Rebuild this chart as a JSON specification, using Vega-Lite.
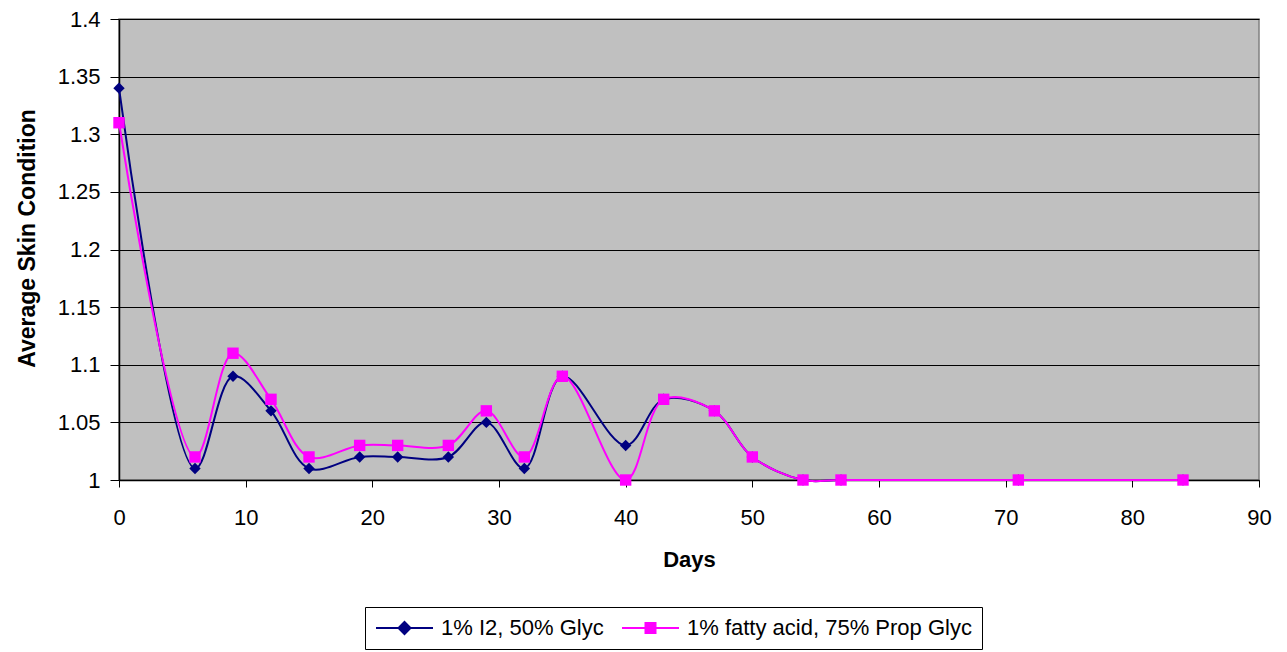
{
  "$schema": "https://vega.github.io/schema/vega-lite/v6.json",
  "autosize": "none",
  "width": 1140,
  "height": 461,
  "padding": {"left": 119, "top": 19, "right": 28, "bottom": 172},
  "background": "white",
  "config": {
    "font": "Liberation Sans",
    "view": {"fill": "#C0C0C0", "stroke": "#808080", "strokeWidth": 1.5},
    "axis": {"labelFont": "Liberation Sans", "titleFont": "Liberation Sans", "labelColor": "black", "titleColor": "black", "domainColor": "black", "tickColor": "black", "labelFlush": false}
  },
  "data": {"values": [
    {"day": 0, "v": 1.34, "s": "1% I2, 50% Glyc"},
    {"day": 6, "v": 1.01, "s": "1% I2, 50% Glyc"},
    {"day": 9, "v": 1.09, "s": "1% I2, 50% Glyc"},
    {"day": 12, "v": 1.06, "s": "1% I2, 50% Glyc"},
    {"day": 15, "v": 1.01, "s": "1% I2, 50% Glyc"},
    {"day": 19, "v": 1.02, "s": "1% I2, 50% Glyc"},
    {"day": 22, "v": 1.02, "s": "1% I2, 50% Glyc"},
    {"day": 26, "v": 1.02, "s": "1% I2, 50% Glyc"},
    {"day": 29, "v": 1.05, "s": "1% I2, 50% Glyc"},
    {"day": 32, "v": 1.01, "s": "1% I2, 50% Glyc"},
    {"day": 35, "v": 1.09, "s": "1% I2, 50% Glyc"},
    {"day": 40, "v": 1.03, "s": "1% I2, 50% Glyc"},
    {"day": 43, "v": 1.07, "s": "1% I2, 50% Glyc"},
    {"day": 47, "v": 1.06, "s": "1% I2, 50% Glyc"},
    {"day": 50, "v": 1.02, "s": "1% I2, 50% Glyc"},
    {"day": 54, "v": 1.0, "s": "1% I2, 50% Glyc"},
    {"day": 57, "v": 1.0, "s": "1% I2, 50% Glyc"},
    {"day": 71, "v": 1.0, "s": "1% I2, 50% Glyc"},
    {"day": 84, "v": 1.0, "s": "1% I2, 50% Glyc"},
    {"day": 0, "v": 1.31, "s": "1% fatty acid, 75% Prop Glyc"},
    {"day": 6, "v": 1.02, "s": "1% fatty acid, 75% Prop Glyc"},
    {"day": 9, "v": 1.11, "s": "1% fatty acid, 75% Prop Glyc"},
    {"day": 12, "v": 1.07, "s": "1% fatty acid, 75% Prop Glyc"},
    {"day": 15, "v": 1.02, "s": "1% fatty acid, 75% Prop Glyc"},
    {"day": 19, "v": 1.03, "s": "1% fatty acid, 75% Prop Glyc"},
    {"day": 22, "v": 1.03, "s": "1% fatty acid, 75% Prop Glyc"},
    {"day": 26, "v": 1.03, "s": "1% fatty acid, 75% Prop Glyc"},
    {"day": 29, "v": 1.06, "s": "1% fatty acid, 75% Prop Glyc"},
    {"day": 32, "v": 1.02, "s": "1% fatty acid, 75% Prop Glyc"},
    {"day": 35, "v": 1.09, "s": "1% fatty acid, 75% Prop Glyc"},
    {"day": 40, "v": 1.0, "s": "1% fatty acid, 75% Prop Glyc"},
    {"day": 43, "v": 1.07, "s": "1% fatty acid, 75% Prop Glyc"},
    {"day": 47, "v": 1.06, "s": "1% fatty acid, 75% Prop Glyc"},
    {"day": 50, "v": 1.02, "s": "1% fatty acid, 75% Prop Glyc"},
    {"day": 54, "v": 1.0, "s": "1% fatty acid, 75% Prop Glyc"},
    {"day": 57, "v": 1.0, "s": "1% fatty acid, 75% Prop Glyc"},
    {"day": 71, "v": 1.0, "s": "1% fatty acid, 75% Prop Glyc"},
    {"day": 84, "v": 1.0, "s": "1% fatty acid, 75% Prop Glyc"}
  ]},
  "encoding": {
    "x": {"field": "day", "type": "quantitative",
      "scale": {"domain": [0, 90], "nice": false, "zero": false},
      "axis": {"values": [0,10,20,30,40,50,60,70,80,90], "title": "Days", "grid": false,
        "labelFontSize": 22, "titleFontSize": 22, "titleFontWeight": "bold",
        "tickSize": 7, "labelPadding": 20, "titlePadding": 21, "domainWidth": 1.5}},
    "y": {"field": "v", "type": "quantitative",
      "scale": {"domain": [1.0, 1.4], "nice": false, "zero": false},
      "axis": {"values": [1, 1.05, 1.1, 1.15, 1.2, 1.25, 1.3, 1.35, 1.4], "format": "~g", "title": "Average Skin Condition",
        "grid": true, "gridColor": "black", "gridWidth": 1, "gridOpacity": 1,
        "labelFontSize": 22, "titleFontSize": 23, "titleFontWeight": "bold", "titleY": 219,
        "tickSize": 9, "labelPadding": 10, "titlePadding": 18, "domainWidth": 1.5}},
    "color": {"field": "s", "type": "nominal",
      "scale": {"domain": ["1% I2, 50% Glyc", "1% fatty acid, 75% Prop Glyc"], "range": ["#000080", "#FF00FF"]},
      "legend": {"orient": "none", "legendX": 246, "legendY": 588, "direction": "horizontal", "title": null,
        "fillColor": "white", "strokeColor": "black", "padding": 10,
        "labelFontSize": 22, "labelFont": "Liberation Sans", "labelColor": "black", "labelLimit": 0,
        "symbolSize": 400, "columnPadding": 14, "labelOffset": 44,
        "symbolType": "M-1,0H4.7M1.85,-0.6L2.45,0L1.85,0.6L1.25,0Z",
        "symbolStrokeWidth": 2,
        "encode": {"symbols": {"update": {
          "fill": {"field": "value", "scale": "color"},
          "stroke": {"field": "value", "scale": "color"},
          "shape": {"signal": "datum.value === '1% I2, 50% Glyc' ? 'M-1,0H4.7M1.85,-0.6L2.45,0L1.85,0.6L1.25,0Z' : 'M-1,0H4.7M1.35,-0.5H2.35V0.5H1.35Z'"}
        }}}}}
  },
  "layer": [
    {"mark": {"type": "line", "interpolate": "catmull-rom", "strokeWidth": 2}},
    {"transform": [{"filter": "datum.s === '1% I2, 50% Glyc'"}],
      "mark": {"type": "point", "filled": true, "opacity": 1, "shape": "diamond", "size": 130}},
    {"transform": [{"filter": "datum.s === '1% fatty acid, 75% Prop Glyc'"}],
      "mark": {"type": "point", "filled": true, "opacity": 1, "shape": "square", "size": 130}}
  ]
}
